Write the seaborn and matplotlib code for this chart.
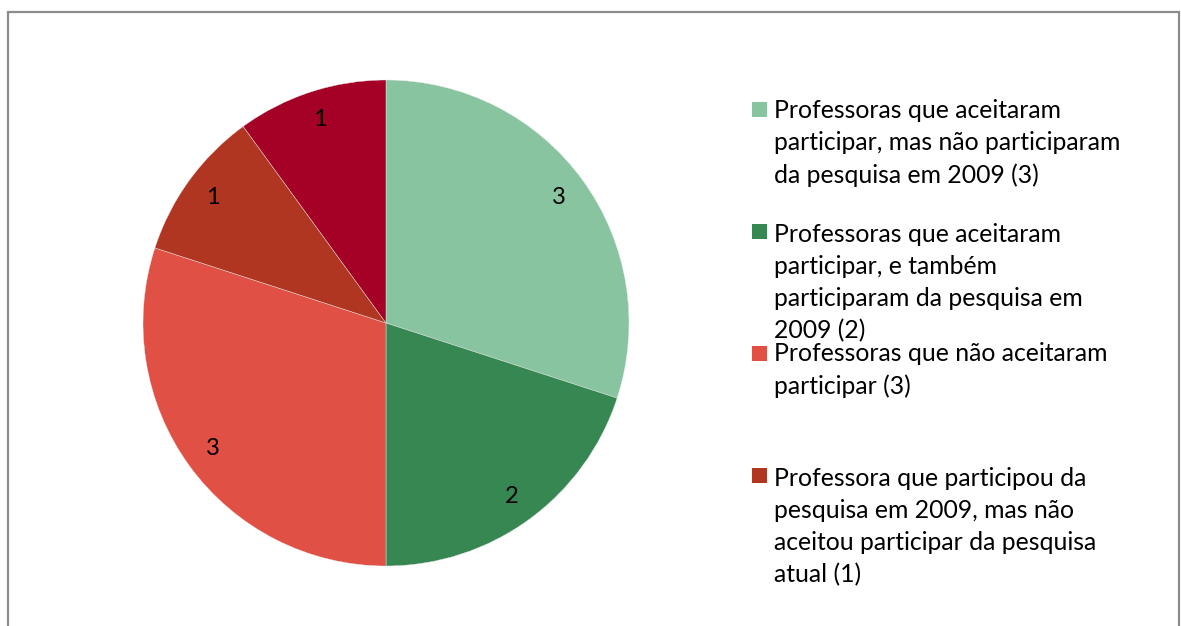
import seaborn as sns
import matplotlib.pyplot as plt
from matplotlib.patches import Rectangle

values = [3, 2, 3, 1, 1]
slice_colors = ["#88C4A0", "#378752", "#E05045", "#B03622", "#A50026"]
legend_labels = [
    "Professoras que aceitaram\nparticipar, mas não participaram\nda pesquisa em 2009 (3)",
    "Professoras que aceitaram\nparticipar, e também\nparticiparam da pesquisa em\n2009 (2)",
    "Professoras que não aceitaram\nparticipar (3)",
    "Professora que participou da\npesquisa em 2009, mas não\naceitou participar da pesquisa\natual (1)",
]

sns.set_style("white")
plt.rcParams['font.family'] = ['Lato', 'DejaVu Sans']

W, H = 1181, 626
fig = plt.figure(figsize=(W / 100, H / 100), dpi=100)

# chart area frame (bottom edge runs off the image)
fig.patches.append(Rectangle((7.5 / W, -0.05), (1178.5 - 7.5) / W, 1.05 - 12.5 / H,
                             transform=fig.transFigure, fill=False,
                             edgecolor="#8c8c8c", linewidth=1.6, clip_on=False))

cx, cy, r = 386, 323, 243
ax = fig.add_axes([(cx - r) / W, (H - cy - r) / H, 2 * r / W, 2 * r / H])
palette = sns.color_palette(slice_colors)
wedges, texts = ax.pie(values, colors=palette, startangle=90, counterclock=False,
                       labels=[str(v) for v in values], labeldistance=0.88,
                       wedgeprops={'linewidth': 0.3, 'edgecolor': '#e8e8e8'},
                       textprops={'fontsize': 17, 'color': 'black'})
for t in texts:
    t.set_ha('center')
    t.set_va('center')
ax.set_xlim(-1, 1)
ax.set_ylim(-1, 1)
ax.set_aspect('equal')
ax.axis('off')

# legend drawn entry by entry, fixed step like the original
y0, step, line_h = 117, 122, 33
for i, lab in enumerate(legend_labels):
    yb = y0 + i * step
    fig.patches.append(Rectangle((752 / W, (H - yb) / H), 15 / W, 15 / H,
                                 transform=fig.transFigure, facecolor=palette[i],
                                 edgecolor='none'))
    n = lab.count("\n")
    fig.text(774 / W, (H - yb - n * line_h) / H, lab, fontsize=17.8, va='baseline',
             ha='left', color='black', linespacing=1.47)

fig.savefig("out.png", dpi=100)
